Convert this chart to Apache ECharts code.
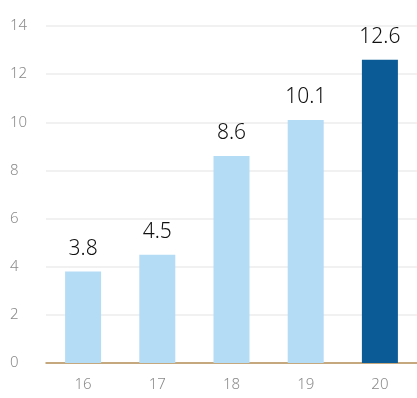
<!DOCTYPE html>
<html><head><meta charset="utf-8">
<script src="https://cdn.jsdelivr.net/npm/echarts@6/dist/echarts.min.js"></script>
<style>html,body{margin:0;padding:0;background:#fff;}#c{width:417px;height:398px;}</style>
</head><body><div id="c"></div>
<script>
const categories = ['16','17','18','19','20'];
const values = [3.8, 4.5, 8.6, 10.1, 12.6];
const yTicks = [0, 2, 4, 6, 8, 10, 12, 14];
const lightColor = '#b4dcf5';
const darkColor = '#0a5b96';
const chart = echarts.init(document.getElementById('c'), null, {renderer:'canvas'});
chart.setOption({
  animation: false,
  grid: {left: 46, right: -4, top: 26, bottom: 35},
  xAxis: {
    type: 'category', data: categories,
    axisLine: {lineStyle: {color: '#b8905a', width: 1.5}},
    axisTick: {show: false},
    axisLabel: {color: '#8a8a8a', fontSize: 15, fontFamily: 'Noto Sans', fontWeight: 300, margin: 14}
  },
  yAxis: {
    type: 'value', min: 0, max: 14, interval: 2,
    axisLine: {show: false}, axisTick: {show: false},
    splitLine: {lineStyle: {color: '#ececec', width: 1.5}},
    axisLabel: {color: '#8a8a8a', fontSize: 15, fontFamily: 'Noto Sans', fontWeight: 300, margin: 36, align: 'left'}
  },
  series: [{
    type: 'bar', barWidth: 36,
    data: values.map((v, i) => ({value: v, itemStyle: {color: i === values.length - 1 ? darkColor : lightColor}})),
    label: {show: true, position: 'top', distance: 12, color: '#111', fontSize: 21, fontFamily: 'Noto Sans', fontWeight: 300}
  }]
});
</script></body></html>
